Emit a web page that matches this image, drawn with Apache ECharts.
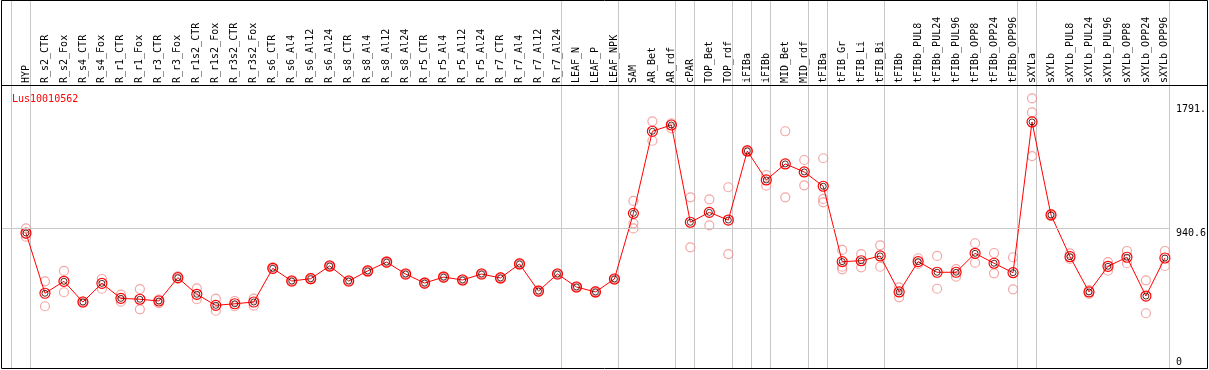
<!DOCTYPE html>
<html>
<head>
<meta charset="utf-8">
<script src="https://cdn.jsdelivr.net/npm/echarts@6/dist/echarts.min.js"></script>
<style>html,body{margin:0;padding:0;background:#fff}#c{width:1209px;height:370px}</style>
</head>
<body>
<div id="c"></div>
<script>
const categories = ['HYP','R_s2_CTR','R_s2_Fox','R_s4_CTR','R_s4_Fox','R_r1_CTR','R_r1_Fox','R_r3_CTR','R_r3_Fox','R_r1s2_CTR','R_r1s2_Fox','R_r3s2_CTR','R_r3s2_Fox','R_s6_CTR','R_s6_Al4','R_s6_Al12','R_s6_Al24','R_s8_CTR','R_s8_Al4','R_s8_Al12','R_s8_Al24','R_r5_CTR','R_r5_Al4','R_r5_Al12','R_r5_Al24','R_r7_CTR','R_r7_Al4','R_r7_Al12','R_r7_Al24','LEAF_N','LEAF_P','LEAF_NPK','SAM','AR_Bet','AR_rdf','cPAR','TOP_Bet','TOP_rdf','iFIBa','iFIBb','MID_Bet','MID_rdf','tFIBa','tFIB_Gr','tFIB_Li','tFIB_Bi','tFIBb','tFIBb_PUL8','tFIBb_PUL24','tFIBb_PUL96','tFIBb_OPP8','tFIBb_OPP24','tFIBb_OPP96','sXYLa','sXYLb','sXYLb_PUL8','sXYLb_PUL24','sXYLb_PUL96','sXYLb_OPP8','sXYLb_OPP24','sXYLb_OPP96'];
const meanValues = [906,493,575,433,561,458,452,440,600,486,410,421,433,664,577,593,680,577,646,707,625,563,604,584,625,598,694,508,625,536,502,591,1041,1604,1647,980,1048,995,1469,1270,1380,1325,1227,710,716,749,502,710,637,637,767,699,634,1668,1030,744,502,678,740,474,735];
const rep1 = [938,575,646,438,591,483,522,449,609,527,456,440,456,670,582,598,686,582,651,712,630,568,609,589,630,603,699,513,630,541,507,596,1126,1672,1659,1151,1137,1220,1475,1304,1604,1407,1419,790,762,822,534,733,749,659,836,769,740,1830,1036,767,515,707,783,582,783];
const rep2 = [881,404,500,428,524,435,383,426,591,452,373,404,408,658,572,588,674,572,641,702,620,558,599,579,620,593,689,503,620,531,497,586,973,1539,1624,808,959,762,1462,1231,1151,1233,1140,675,671,675,465,694,524,607,703,630,520,1734,1024,728,488,648,699,356,680];
const rep3 = [900,null,null,null,null,null,null,null,null,null,null,null,null,null,null,null,null,null,null,null,null,null,null,null,null,null,null,null,null,null,null,null,938,null,null,null,null,null,null,null,null,null,1117,657,null,null,null,null,null,null,null,null,null,1434,null,null,null,null,null,null,null];
const tickValues = [0, 940.6, 1791];
const tickLabels = ['0', '940.6', '1791.'];
const separatorsAfter = [-1,0,28,31,34,35,37,38,39,41,42,45,52,53,60];
const title = 'Lus10010562';

const FONT = 'DejaVu Sans Mono';
const chart = echarts.init(document.getElementById('c'), null, {renderer: 'canvas'});
const step = 19, firstX = 26, gridLeft = 1, gridRight = 1170;
const xMin = -(firstX - gridLeft) / step;
const xMax = xMin + (gridRight - gridLeft) / step;
const gridTop = 85, gridBottomPx = 368, zeroPx = 365.15, k = 0.14581;
const yMin = -(gridBottomPx - zeroPx) / k;
const yMax = yMin + (gridBottomPx - gridTop) / k;

const repData = [];
[rep1, rep2, rep3].forEach(arr => arr.forEach((v, i) => { if (v != null) repData.push([i, v]); }));
const meanData = meanValues.map((v, i) => [i, v]);

const yAxisBase = {
  type: 'value', min: yMin, max: yMax, position: 'right',
  axisLine: {show: false}, axisTick: {show: false}, splitLine: {show: false}
};

chart.setOption({
  animation: false,
  backgroundColor: '#fff',
  title: {text: title, left: 7, top: 89, textStyle: {color: '#ff0000', fontSize: 10, fontFamily: FONT, fontWeight: 'normal'}},
  grid: {left: gridLeft, right: 1209 - gridRight, top: gridTop, bottom: 370 - gridBottomPx, containLabel: false},
  xAxis: [{
    type: 'value', position: 'top', min: xMin, max: xMax,
    axisLine: {show: false}, axisTick: {show: false}, splitLine: {show: false},
    axisLabel: {
      show: true, rotate: 90, margin: 2, fontSize: 10, fontFamily: FONT, color: '#000',
      customValues: categories.map((c, i) => i),
      formatter: v => categories[Math.round(v)] || ''
    }
  }],
  yAxis: [
    Object.assign({}, yAxisBase, {
      axisLabel: {show: true, customValues: tickValues.slice(1), formatter: v => tickLabels[tickValues.indexOf(v)], verticalAlign: 'top', align: 'left', margin: 7, fontSize: 10, fontFamily: FONT, color: '#000'}
    }),
    Object.assign({}, yAxisBase, {
      axisLabel: {show: true, customValues: tickValues.slice(0, 1), formatter: v => tickLabels[tickValues.indexOf(v)], verticalAlign: 'bottom', align: 'left', margin: 7, padding: [0, 0, -2, 0], fontSize: 10, fontFamily: FONT, color: '#000'}
    })
  ],
  graphic: [
    {type: 'rect', shape: {x: 1.5, y: 0.5, width: 1206, height: 368}, style: {fill: 'none', stroke: '#000', lineWidth: 1}, z: 100},
    {type: 'line', shape: {x1: 1.5, y1: 85.5, x2: 1207.5, y2: 85.5}, style: {stroke: '#000', lineWidth: 1}, z: 100}
  ],
  series: [
    {
      type: 'custom', clip: false, silent: true, z: 1,
      data: separatorsAfter.map(i => [i + 4 / step]),
      renderItem: (params, api) => {
        const x = Math.round(api.coord([api.value(0), 0])[0]) + 0.5;
        return {type: 'line', shape: {x1: x, y1: 0, x2: x, y2: 368}, style: {stroke: '#c8c8c8', lineWidth: 1}};
      }
    },
    {
      type: 'scatter', z: 2, silent: true, data: repData,
      symbol: 'circle', symbolSize: 9,
      itemStyle: {color: 'rgba(255,255,255,0)', borderColor: '#f09090', borderWidth: 1.2}
    },
    {
      type: 'line', z: 3, silent: true, data: meanData,
      symbol: 'circle', symbolSize: 10, showSymbol: true,
      lineStyle: {color: '#ff0000', width: 1},
      itemStyle: {color: 'rgba(255,255,255,0)', borderColor: '#ff0000', borderWidth: 1.2},
      markLine: {
        silent: true, symbol: ['none', 'none'], label: {show: false},
        lineStyle: {color: '#c8c8c8', type: 'solid', width: 1},
        data: [{yAxis: tickValues[1]}]
      }
    },
    {
      type: 'scatter', z: 4, silent: true, data: meanData,
      symbol: 'circle', symbolSize: 6,
      itemStyle: {color: 'rgba(255,255,255,0)', borderColor: '#200', borderWidth: 1}
    }
  ]
});
</script>
</body>
</html>
